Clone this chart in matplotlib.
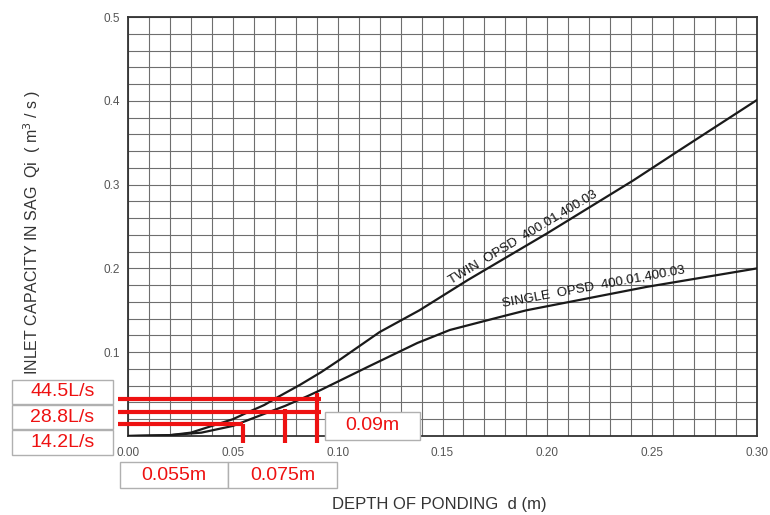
import numpy as np
import matplotlib
matplotlib.use("Agg")
import matplotlib.pyplot as plt
from matplotlib.patches import Rectangle

plt.rcParams['font.family'] = ['Liberation Sans', 'DejaVu Sans']

# ---- data ----
twin_d = [0.0, 0.02, 0.03, 0.04, 0.05, 0.056, 0.065, 0.0715, 0.082, 0.092, 0.101,
          0.12, 0.139, 0.162, 0.2, 0.241, 0.263, 0.30]
twin_q = [0.0, 0.001, 0.004, 0.012, 0.020, 0.027, 0.037, 0.0465, 0.061, 0.076, 0.091,
          0.124, 0.150, 0.186, 0.242, 0.305, 0.341, 0.401]

single_d = [0.0, 0.02, 0.035, 0.05, 0.0635, 0.075, 0.086, 0.092, 0.114, 0.138,
            0.1535, 0.1774, 0.19, 0.2475, 0.30]
single_q = [0.0, 0.001, 0.004, 0.012, 0.025, 0.036, 0.048, 0.055, 0.082, 0.111,
            0.1265, 0.142, 0.150, 0.178, 0.200]

flow_labels = ["44.5L/s", "28.8L/s", "14.2L/s"]
flow_values = [0.0445, 0.0288, 0.0142]          # m^3/s
depth_labels = ["0.055m", "0.075m", "0.09m"]
depth_values = [0.055, 0.075, 0.09]              # m

x_ticks = [0.00, 0.05, 0.10, 0.15, 0.20, 0.25, 0.30]
y_ticks = [0.1, 0.2, 0.3, 0.4, 0.5]

W, H = 770, 515
fig = plt.figure(figsize=(W / 100, H / 100), dpi=100)
ax = fig.add_axes([128 / W, 1 - 436 / H, (757 - 128) / W, (436 - 17) / H])

ax.set_xlim(0, 0.30)
ax.set_ylim(0, 0.5)

# grid
ax.set_xticks(np.arange(0, 0.3001, 0.01), minor=True)
ax.set_yticks(np.arange(0, 0.5001, 0.02), minor=True)
ax.set_xticks(x_ticks)
ax.set_xticklabels([f"{v:.2f}" for v in x_ticks])
ax.set_yticks(y_ticks)
ax.set_yticklabels([f"{v:.1f}" for v in y_ticks])
ax.grid(True, which='both', color='#6e6e6e', linewidth=0.8)
ax.set_axisbelow(True)
ax.tick_params(which='both', length=0)
ax.tick_params(axis='x', pad=8, labelsize=8.5, labelcolor='#555555')
ax.tick_params(axis='y', pad=6, labelsize=8.5, labelcolor='#555555')
for s in ax.spines.values():
    s.set_color('#333333')
    s.set_linewidth(1.3)

# curves
ax.plot(twin_d, twin_q, color='#1a1a1a', lw=1.6, zorder=3)
ax.plot(single_d, single_q, color='#1a1a1a', lw=1.6, zorder=3)

ax.text(0.1884, 0.2375, "TWIN  OPSD  400.01,400.03", rotation=31, fontsize=9.5,
        ha='center', va='center', color='#111111', rotation_mode='anchor')
ax.text(0.2218, 0.178, "SINGLE  OPSD  400.01,400.03", rotation=10.5, fontsize=9.5,
        ha='center', va='center', color='#111111', rotation_mode='anchor')

ax.set_xlabel("DEPTH OF PONDING  d (m)", fontsize=12, color='#333333')
ax.xaxis.set_label_coords((439 - 128) / 629, -(497 - 436) / 419)
ax.set_ylabel(r"INLET CAPACITY IN SAG  Qi  ( m$^{3}$ / s )", fontsize=11.5,
              color='#333333')
ax.yaxis.set_label_coords((43 - 128) / 629, (436 - 232) / 419)

# red annotation lines
red = '#ee1111'
h_end = [0.092, 0.092, 0.055]
for q, xe in zip(flow_values, h_end):
    ax.plot([-0.005, xe], [q, q], color=red, lw=3, clip_on=False, zorder=5,
            solid_capstyle='butt')
v_top = [0.0142, 0.032, 0.051]
for d, yt in zip(depth_values, v_top):
    ax.plot([d, d], [yt, -0.008], color=red, lw=3, clip_on=False, zorder=5,
            solid_capstyle='butt')

# annotation boxes (pixel layout)
def box(x0, y0, x1, y1, text):
    r = Rectangle((x0 / W, 1 - y1 / H), (x1 - x0) / W, (y1 - y0) / H,
                  transform=fig.transFigure, facecolor='white',
                  edgecolor='#b0b0b0', lw=1.0, zorder=10)
    fig.add_artist(r)
    fig.text((x0 + x1) / 2 / W, 1 - (y0 + y1) / 2 / H, text, color=red,
             fontsize=14, ha='center', va='center', zorder=11)

box(12, 380, 113, 404, flow_labels[0])
box(12, 405, 113, 429, flow_labels[1])
box(12, 430, 113, 455, flow_labels[2])
box(120, 462, 228, 488, depth_labels[0])
box(228, 462, 337, 488, depth_labels[1])
box(325, 412, 420, 440, depth_labels[2])

fig.savefig("out.png", dpi=100)
